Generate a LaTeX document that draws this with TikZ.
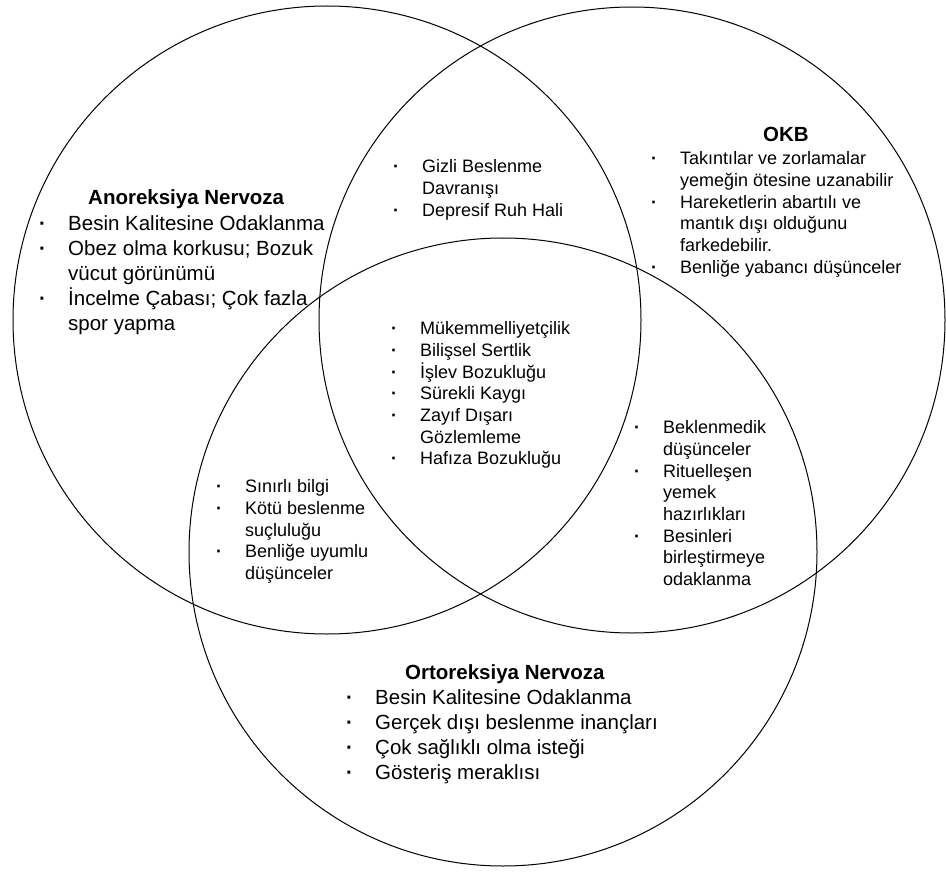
\documentclass[tikz,border=0pt]{standalone}
\usepackage{fontspec}
\setmainfont{Liberation Sans}
\usetikzlibrary{positioning}
\tikzset{
    ring/.style={draw=black, line width=1pt},
    head/.style={font=\bfseries\fontsize{20.5}{25}\selectfont, inner sep=0pt, anchor=base west},
    biglist/.style={font=\fontsize{20.5}{25}\selectfont, align=left, inner sep=0pt, anchor=north west},
    smalllist/.style={font=\fontsize{18}{21.7}\selectfont, align=left, inner sep=0pt, anchor=north west},
}
\newcommand{\bul}{\llap{\makebox[29pt][l]{\textbf{\textperiodcentered}}}}

\begin{document}
\begin{tikzpicture}[x=1pt, y=-1pt]
    \useasboundingbox (0,0) rectangle (946,872);
    % the three sets
    \draw[ring] (327,320) circle[radius=314pt];
    \draw[ring] (632,320) circle[radius=313pt];
    \draw[ring] (503,552) circle[radius=314pt];

    \node [head] (an) at (88,205) {Anoreksiya Nervoza};
    \node [biglist] (anlist) at (68,215) {\bul Besin Kalitesine Odaklanma\\ \bul Obez olma korkusu; Bozuk\\ vücut görünümü\\ \bul İncelme Çabası; Çok fazla\\ spor yapma};

    \node [head] (okb) at (763,142) {OKB};
    \node [smalllist] (okblist) at (680,151.5) {\bul Takıntılar ve zorlamalar\\ yemeğin ötesine uzanabilir\\ \bul Hareketlerin abartılı ve\\ mantık dışı olduğunu\\ farkedebilir.\\ \bul Benliğe yabancı düşünceler};

    \node [head] (orto) at (405,679) {Ortoreksiya Nervoza};
    \node [biglist] (ortolist) at (375,689) {\bul Besin Kalitesine Odaklanma\\ \bul Gerçek dışı beslenme inançları\\ \bul Çok sağlıklı olma isteği\\ \bul Gösteriş meraklısı};

    % overlaps
    \node [smalllist] (anokb) at (422,159.5) {\bul Gizli Beslenme\\ Davranışı\\ \bul Depresif Ruh Hali};
    \node [smalllist] (all) at (420,321.5) {\bul Mükemmelliyetçilik\\ \bul Bilişsel Sertlik\\ \bul İşlev Bozukluğu\\ \bul Sürekli Kaygı\\ \bul Zayıf Dışarı\\ Gözlemleme\\ \bul Hafıza Bozukluğu};
    \node [smalllist] (anorto) at (245,479.5) {\bul Sınırlı bilgi\\ \bul Kötü beslenme\\ suçluluğu\\ \bul Benliğe uyumlu\\ düşünceler};
    \node [smalllist] (okborto) at (663,420.5) {\bul Beklenmedik\\ düşünceler\\ \bul Rituelleşen\\ yemek\\ hazırlıkları\\ \bul Besinleri\\ birleştirmeye\\ odaklanma};
\end{tikzpicture}
\end{document}
